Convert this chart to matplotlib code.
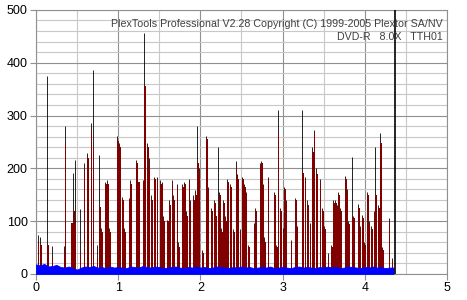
import matplotlib
matplotlib.use("Agg")
import matplotlib.pyplot as plt
from matplotlib.ticker import MultipleLocator

# PI error spikes: position (GB), max (black) and sum (dark red)
spike_x = [0.02, 0.05, 0.14, 0.19, 0.34, 0.35, 0.43, 0.45, 0.47, 0.53, 0.58, 0.62, 0.665, 0.69,
           0.74, 0.77, 0.79, 0.84, 0.87, 0.89, 0.99, 1.01, 1.05, 1.07, 1.13, 1.15, 1.22, 1.24,
           1.30, 1.32, 1.35, 1.37, 1.40, 1.44, 1.47, 1.51, 1.53, 1.55, 1.60, 1.62, 1.65, 1.67,
           1.71, 1.73, 1.78, 1.80, 1.83, 1.86, 1.87, 1.91, 1.94, 1.96, 1.98, 2.02, 2.07, 2.09,
           2.13, 2.17, 2.18, 2.21, 2.23, 2.25, 2.28, 2.30, 2.33, 2.36, 2.37, 2.40, 2.43, 2.45,
           2.48, 2.51, 2.53, 2.55, 2.58, 2.65, 2.67, 2.72, 2.74, 2.76, 2.78, 2.82, 2.90, 2.92,
           2.94, 2.97, 3.00, 3.02, 3.04, 3.10, 3.15, 3.17, 3.24, 3.27, 3.30, 3.33, 3.36, 3.38,
           3.41, 3.45, 3.48, 3.51, 3.55, 3.59, 3.62, 3.64, 3.66, 3.68, 3.70, 3.76, 3.78, 3.80,
           3.84, 3.86, 3.92, 3.94, 3.97, 3.99, 4.03, 4.05, 4.08, 4.11, 4.13, 4.16, 4.19, 4.21,
           4.29, 4.33]
spike_max = [74, 69, 375, 52, 52, 281, 96, 191, 216, 123, 210, 229, 286, 386,
             55, 225, 87, 175, 178, 87, 261, 248, 146, 87, 144, 178, 216, 175,
             178, 456, 248, 220, 150, 184, 184, 178, 175, 110, 102, 140, 178, 150,
             171, 60, 171, 175, 120, 180, 140, 150, 159, 280, 200, 45, 261, 165,
             125, 140, 120, 241, 155, 87, 140, 110, 180, 171, 155, 85, 213, 190,
             85, 184, 171, 155, 55, 96, 125, 210, 213, 171, 70, 184, 155, 55,
             311, 125, 87, 165, 140, 65, 144, 90, 311, 184, 140, 96, 240, 273,
             200, 180, 125, 90, 40, 55, 140, 140, 130, 155, 125, 185, 160, 100,
             222, 110, 132, 90, 112, 60, 155, 100, 90, 120, 241, 130, 267, 50,
             106, 30]
spike_sum = [60, 55, 55, 30, 40, 248, 96, 120, 96, 40, 200, 220, 270, 240,
             30, 127, 80, 170, 170, 80, 252, 240, 140, 80, 140, 170, 210, 175,
             175, 355, 240, 200, 140, 180, 180, 170, 170, 100, 100, 130, 170, 140,
             165, 50, 165, 170, 110, 175, 130, 140, 150, 210, 190, 40, 255, 160,
             120, 135, 110, 121, 150, 80, 135, 100, 175, 165, 150, 80, 200, 180,
             80, 180, 165, 150, 50, 90, 120, 205, 210, 165, 60, 180, 150, 50,
             267, 120, 80, 160, 135, 60, 140, 85, 191, 180, 130, 90, 230, 267,
             190, 175, 120, 85, 30, 50, 135, 135, 125, 150, 120, 180, 150, 95,
             110, 105, 125, 85, 105, 55, 150, 95, 85, 115, 150, 125, 248, 45,
             100, 25]

# PI failure baseline (blue)
base_x = [i * 0.05 for i in range(88)]
base_y = [18, 16, 19, 14, 15, 17, 13, 12, 14, 11, 8, 12, 14, 13, 15, 12, 13, 11, 14, 12,
          13, 12, 11, 14, 13, 12, 15, 13, 12, 14, 13, 11, 12, 13, 14, 12, 11, 13, 12, 14,
          12, 13, 11, 12, 14, 13, 12, 11, 13, 12, 14, 12, 13, 11, 12, 13, 12, 14, 11, 12,
          13, 12, 11, 13, 14, 12, 13, 12, 11, 13, 12, 14, 12, 13, 11, 12, 14, 13, 12, 11,
          13, 12, 14, 12, 13, 11, 12, 12]
end_pos = 4.37

fig = plt.figure(figsize=(4.67, 3.0), dpi=100)
ax = fig.add_axes([0.077, 0.087, 0.880, 0.880])

ax.vlines(spike_x, 0, spike_max, color='black', linewidth=0.6, zorder=3)
ax.bar(spike_x, spike_sum, width=0.02, align='edge', color='#800000', linewidth=0, zorder=4)
ax.fill_between(base_x, 0, base_y, color='#0000ff', linewidth=0.6, edgecolor='#0000ff', zorder=5)
ax.axvline(end_pos, color='black', linewidth=1.2, zorder=6)

ax.set_xlim(0, 5)
ax.set_ylim(0, 500)
ax.xaxis.set_major_locator(MultipleLocator(1))
ax.xaxis.set_minor_locator(MultipleLocator(0.5))
ax.yaxis.set_major_locator(MultipleLocator(100))
ax.yaxis.set_minor_locator(MultipleLocator(20))
ax.grid(which='major', color='#909090', linewidth=0.8, zorder=0)
ax.grid(which='minor', color='#c8c8c8', linewidth=0.8, zorder=0)
ax.set_axisbelow(True)
for s in ax.spines.values():
    s.set_color('#909090')
ax.tick_params(which='major', length=4, color='#909090', labelsize=9, pad=2)
ax.tick_params(which='minor', length=0)
for lab in ax.get_xticklabels() + ax.get_yticklabels():
    lab.set_family('Liberation Sans')

ax.text(0.99, 0.965, 'PlexTools Professional V2.28 Copyright (C) 1999-2005 Plextor SA/NV',
        transform=ax.transAxes, ha='right', va='top', fontsize=7.7, color='#404040',
        family='Liberation Sans', zorder=7)
ax.text(0.99, 0.915, 'DVD-R   8.0X   TTH01', transform=ax.transAxes, ha='right', va='top',
        fontsize=7.7, color='#404040', family='Liberation Sans', zorder=7)

fig.savefig('out.png', dpi=100, facecolor='white')
